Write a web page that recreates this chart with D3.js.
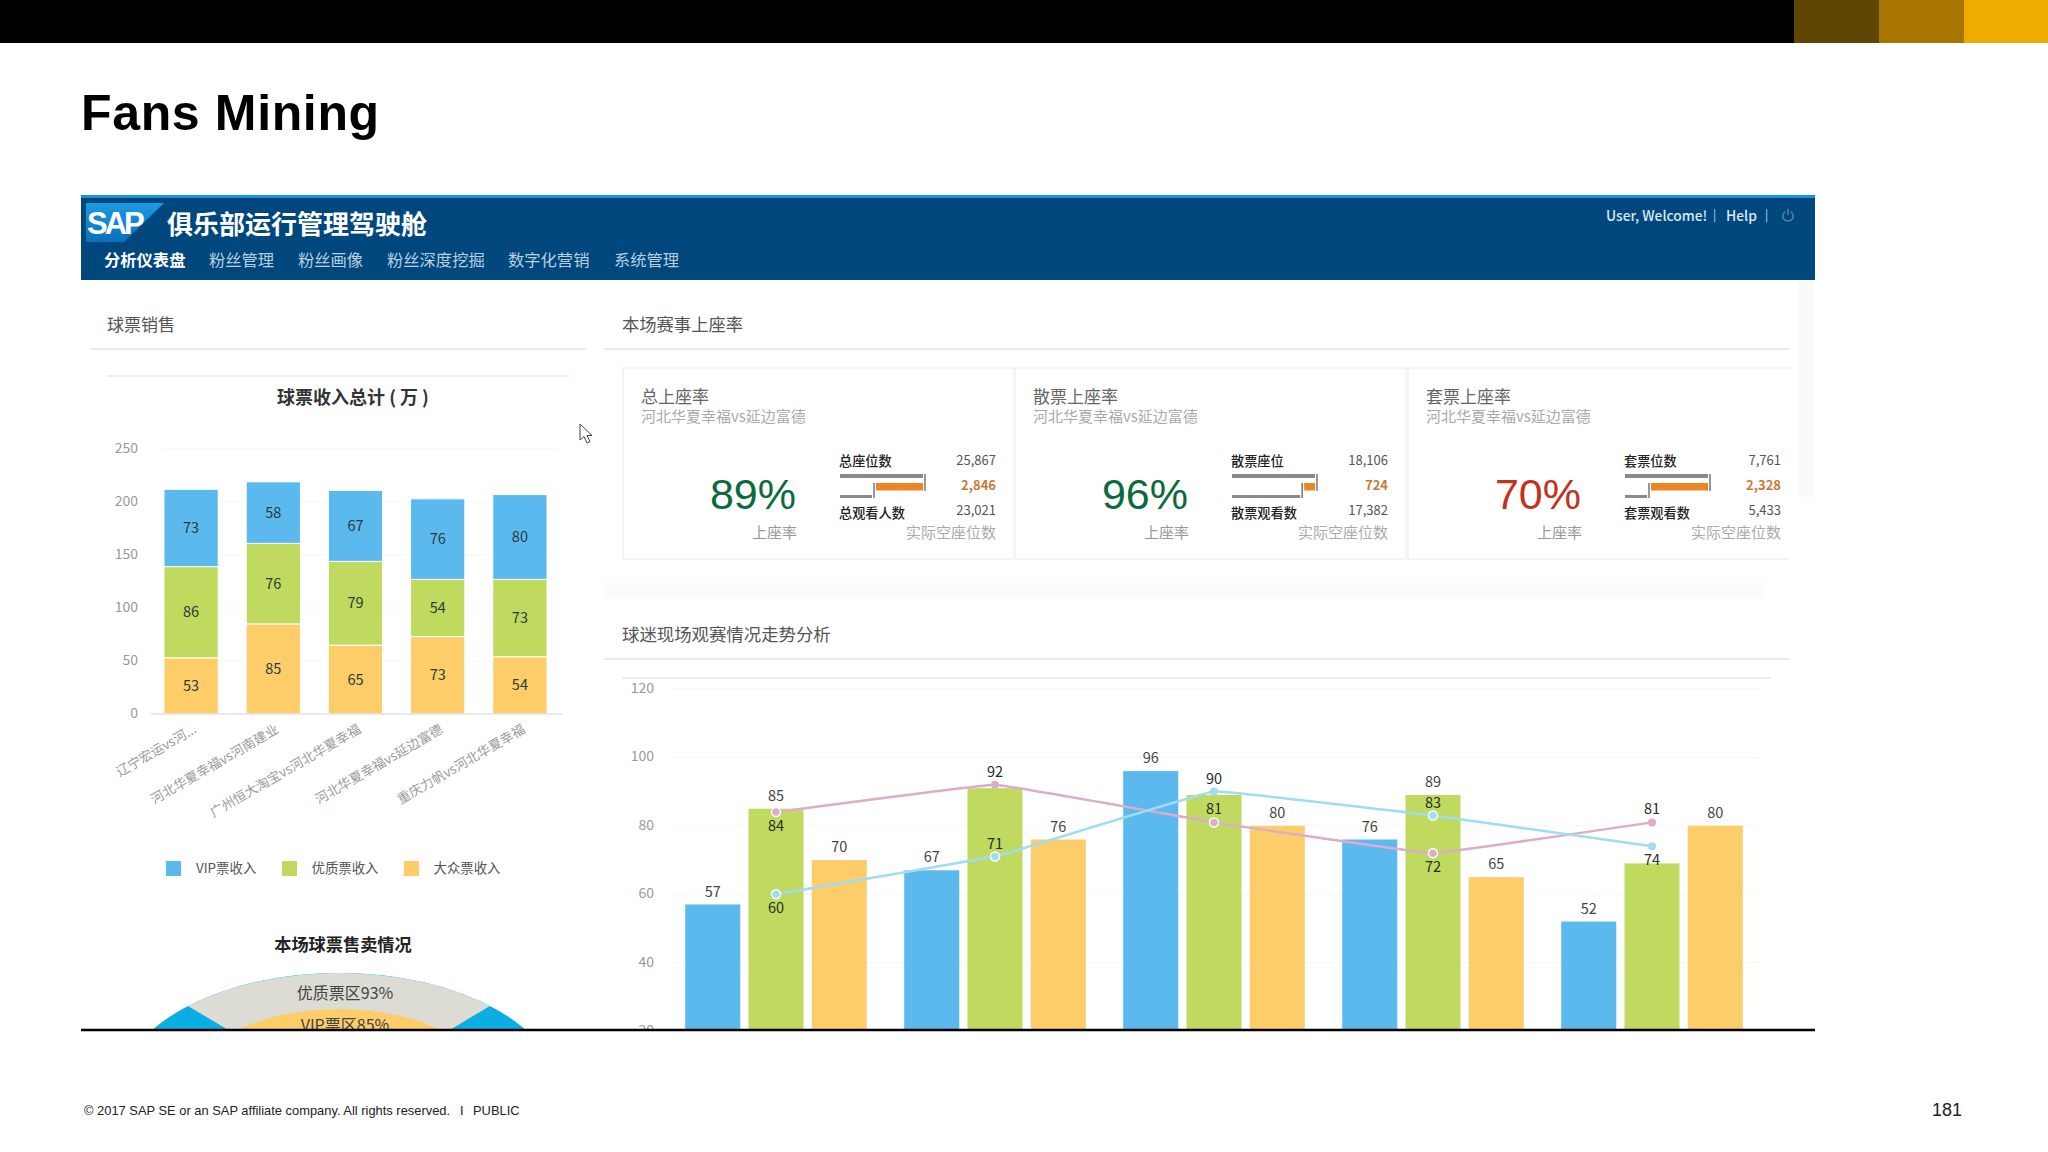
<!DOCTYPE html>
<html>
<head>
<meta charset="utf-8">
<script src="https://cdn.jsdelivr.net/npm/d3@7"></script>
<style>
html, body { margin: 0; padding: 0; background: #fff; }
svg { display: block; }
text { font-family: "Noto Sans CJK SC", sans-serif; }
.arial { font-family: "Liberation Sans", Arial, sans-serif; }
</style>
</head>
<body>
<div id="slide"></div>
<script>
// ticket revenue stacked chart
var matchNames = ["辽宁宏运vs河...", "河北华夏幸福vs河南建业", "广州恒大淘宝vs河北华夏幸福", "河北华夏幸福vs延边富德", "重庆力帆vs河北华夏幸福"];
var publicIncome = [53, 85, 65, 73, 54];
var premiumIncome = [86, 76, 79, 54, 73];
var vipIncome = [73, 58, 67, 76, 80];
var incomeTicks = [0, 50, 100, 150, 200, 250];
var incomeLegend = ["VIP票收入", "优质票收入", "大众票收入"];

// attendance trend chart
var trendGroups = ["g1", "g2", "g3", "g4", "g5"];
var trendVip = [57, 67, 96, 76, 52];
var trendPremium = [85, 91, 89, 89, 69];
var trendPublic = [70, 76, 80, 65, 80];
var trendPink = [84, 92, 81, 72, 81];
var trendBlue = [60, 71, 90, 83, 74];
var trendTicks = [20, 40, 60, 80, 100, 120];

// occupancy cards
var cardTitles = ["总上座率", "散票上座率", "套票上座率"];
var cardRates = ["89%", "96%", "70%"];
var seatLabels = ["总座位数", "散票座位", "套票位数"];
var watchLabels = ["总观看人数", "散票观看数", "套票观看数"];
var seatTotals = [25867, 18106, 7761];
var seatEmpty = [2846, 724, 2328];
var seatWatched = [23021, 17382, 5433];
var bulletMin = [21235, 14049, 4593];

// half hidden gauge under the revenue chart
var gaugeLabels = ["优质票区93%", "VIP票区85%"];

var navItems = ["分析仪表盘", "粉丝管理", "粉丝画像", "粉丝深度挖掘", "数字化营销", "系统管理"];

var blue = "#5bb9ee", green = "#bfda5e", yellow = "#fdcd69";

var svg = d3.select("#slide")
    .append("svg")
    .attr("width", 2048)
    .attr("height", 1152);

var defs = svg.append("defs");

var clip = defs.append("clipPath").attr("id", "pageClip");
clip.append("rect").attr("x", 0).attr("y", 0).attr("width", 2048).attr("height", 1030);

var logoGrad = defs.append("linearGradient")
    .attr("id", "logoGrad")
    .attr("x1", 0).attr("y1", 0).attr("x2", 0).attr("y2", 1);
logoGrad.append("stop").attr("offset", "0%").attr("stop-color", "#1c9be4");
logoGrad.append("stop").attr("offset", "100%").attr("stop-color", "#0b6fb8");

function label(parent, x, y, str, size, color, anchor, weight) {
    return parent.append("text")
        .attr("x", x)
        .attr("y", y)
        .attr("dy", "0.35em")
        .attr("text-anchor", anchor || "start")
        .attr("font-size", size)
        .attr("font-weight", weight || 400)
        .attr("fill", color)
        .text(str);
}

function hRule(parent, x1, x2, y, color, w) {
    parent.append("line")
        .attr("x1", x1).attr("x2", x2)
        .attr("y1", y).attr("y2", y)
        .attr("stroke", color)
        .attr("stroke-width", w || 1.5);
}

// slide frame
svg.append("rect").attr("width", 2048).attr("height", 43).attr("fill", "#000");
svg.append("rect").attr("x", 1794).attr("width", 85).attr("height", 43).attr("fill", "#5e4500");
svg.append("rect").attr("x", 1879).attr("width", 85).attr("height", 43).attr("fill", "#a87600");
svg.append("rect").attr("x", 1964).attr("width", 84).attr("height", 43).attr("fill", "#f0ab00");

svg.append("text")
    .attr("class", "arial")
    .attr("x", 81)
    .attr("y", 130)
    .attr("font-size", 50)
    .attr("font-weight", 700)
    .attr("letter-spacing", 0.65)
    .attr("fill", "#000")
    .text("Fans Mining");

label(svg, 84, 1110, "© 2017 SAP SE or an SAP affiliate company. All rights reserved.", 12.9, "#222").attr("class", "arial");
label(svg, 460, 1110, "I", 12.9, "#222").attr("class", "arial");
label(svg, 473, 1110, "PUBLIC", 12.9, "#222").attr("class", "arial");
label(svg, 1932, 1110, "181", 18, "#222").attr("class", "arial");

// app header
svg.append("rect").attr("x", 81).attr("y", 195).attr("width", 1734).attr("height", 85).attr("fill", "#00477e");
svg.append("rect").attr("x", 81).attr("y", 195).attr("width", 1734).attr("height", 3).attr("fill", "#1a92da");
svg.append("path").attr("d", "M86,203H164L124,242H86Z").attr("fill", "url(#logoGrad)");
svg.append("text")
    .attr("class", "arial")
    .attr("x", 87)
    .attr("y", 234)
    .attr("font-size", 31)
    .attr("font-weight", 700)
    .attr("letter-spacing", -3)
    .attr("fill", "#fff")
    .text("SAP");
label(svg, 167, 225, "俱乐部运行管理驾驶舱", 26, "#fff", "start", 700);

var navX = d3.scaleOrdinal().domain(navItems).range([104, 209, 298, 387, 508, 614]);
navItems.forEach(function(d, i) {
    label(svg, navX(d), 260, d, 16.3, i === 0 ? "#fff" : "#b9cfe0", "start", i === 0 ? 700 : 400);
});

label(svg, 1606, 216, "User, Welcome!", 13.8, "#dce8f2", "start", 500);
label(svg, 1713, 215, "|", 12, "#c6d7e6");
label(svg, 1726, 216, "Help", 13.8, "#dce8f2", "start", 500);
label(svg, 1765, 215, "|", 12, "#c6d7e6");
var powerArc = d3.arc().innerRadius(4.5).outerRadius(5.8).startAngle(0.5).endAngle(2 * Math.PI - 0.5);
svg.append("path").attr("d", powerArc()).attr("transform", "translate(1788,216)").attr("fill", "#5f86a8");
svg.append("rect").attr("x", 1787.3).attr("y", 209).attr("width", 1.4).attr("height", 6).attr("fill", "#5f86a8");

// faint divider band
svg.append("rect").attr("x", 604).attr("y", 583).attr("width", 1160).attr("height", 15).attr("fill", "#fbfbfb");

// section headings
label(svg, 107, 325, "球票销售", 17, "#555");
hRule(svg, 90, 586, 349, "#e4e4e4");
hRule(svg, 107, 569, 376, "#e8e8e8");
label(svg, 353, 398, "球票收入总计 ( 万 )", 18, "#333", "middle", 700);

label(svg, 622, 325, "本场赛事上座率", 17.3, "#555");
hRule(svg, 604, 1790, 349, "#e4e4e4");
label(svg, 622, 635, "球迷现场观赛情况走势分析", 17.4, "#555");
hRule(svg, 604, 1790, 659, "#e4e4e4");
hRule(svg, 622, 1771, 678, "#eeeeee", 2);

// --- stacked revenue chart ---
var incomeX = d3.scaleBand()
    .domain(matchNames)
    .range([150, 561])
    .paddingInner(0.34)
    .paddingOuter(0.17);

var incomeY = d3.scaleLinear()
    .domain([0, 250])
    .range([714, 449]);

var incomeAxis = svg.append("g")
    .attr("transform", "translate(151,0)")
    .call(d3.axisLeft(incomeY).tickValues(incomeTicks).tickSize(0).tickPadding(13));
incomeAxis.select(".domain").remove();
incomeAxis.selectAll("text")
    .attr("font-size", 14)
    .attr("fill", "#999")
    .attr("dy", "0.25em")
    .style("font-family", "'Noto Sans CJK SC'");

svg.append("g").selectAll("line")
    .data(incomeTicks.slice(1))
    .enter()
    .append("line")
    .attr("x1", 162).attr("x2", 558)
    .attr("y1", d => incomeY(d)).attr("y2", d => incomeY(d))
    .attr("stroke", "#f5f5f5");

var incomeRows = matchNames.map(function(d, i) {
    return { name: d, publicIncome: publicIncome[i], premiumIncome: premiumIncome[i], vipIncome: vipIncome[i] };
});
var incomeColor = { publicIncome: yellow, premiumIncome: green, vipIncome: blue };
var incomeStack = d3.stack().keys(["publicIncome", "premiumIncome", "vipIncome"])(incomeRows);

var incomeLayers = svg.append("g").selectAll("g")
    .data(incomeStack)
    .enter()
    .append("g")
    .attr("fill", d => incomeColor[d.key]);

incomeLayers.selectAll("rect")
    .data(d => d)
    .enter()
    .append("rect")
    .attr("x", d => incomeX(d.data.name))
    .attr("y", d => incomeY(d[1]))
    .attr("width", incomeX.bandwidth())
    .attr("height", d => incomeY(d[0]) - incomeY(d[1]))
    .attr("stroke", "#fff")
    .attr("stroke-width", 1);

incomeLayers.selectAll("text")
    .data(d => d)
    .enter()
    .append("text")
    .attr("x", d => incomeX(d.data.name) + incomeX.bandwidth() / 2)
    .attr("y", d => incomeY((d[0] + d[1]) / 2))
    .attr("dy", "0.35em")
    .attr("text-anchor", "middle")
    .attr("font-size", 14.5)
    .attr("fill", "#2c3a3c")
    .text(d => d[1] - d[0]);

hRule(svg, 151, 562, 714, "#dfe3e6", 1.5);

svg.append("g").selectAll("text")
    .data(matchNames)
    .enter()
    .append("text")
    .attr("transform", d => `translate(${incomeX(d) + incomeX.bandwidth() / 2 + 4},728) rotate(-30)`)
    .attr("dy", "0.35em")
    .attr("text-anchor", "end")
    .attr("font-size", 13.2)
    .attr("fill", "#9a9a9a")
    .text(d => d);

// legend
var legendSwatch = [166, 282, 404];
var legendColors = [blue, green, yellow];
incomeLegend.forEach(function(d, i) {
    svg.append("rect")
        .attr("x", legendSwatch[i]).attr("y", 861)
        .attr("width", 15).attr("height", 15)
        .attr("fill", legendColors[i]);
    label(svg, legendSwatch[i] + (i === 0 ? 30 : 29.5), 868, d, 13.4, "#555");
});

// --- gauge, cut off by the slide edge ---
label(svg, 343, 945, "本场球票售卖情况", 17.2, "#222", "middle", 700);

var gaugeClip = svg.append("g").attr("clip-path", "url(#pageClip)");
var gauge = gaugeClip.append("g").attr("transform", "translate(339,1096) scale(1.8,1)");
var ringArc = d3.arc().innerRadius(0);
gauge.append("path")
    .attr("d", ringArc({ outerRadius: 123, startAngle: -Math.PI / 2, endAngle: Math.PI / 2 }))
    .attr("fill", "#0aaee4");
gauge.append("path")
    .attr("d", ringArc({ outerRadius: 123, startAngle: -0.75, endAngle: 0.75 }))
    .attr("fill", "#dcdcd4");
gauge.append("path")
    .attr("d", ringArc({ outerRadius: 87, startAngle: -Math.PI / 2, endAngle: Math.PI / 2 }))
    .attr("fill", yellow);
label(gaugeClip, 345, 993, gaugeLabels[0], 16, "#444", "middle");
label(gaugeClip, 345, 1025, gaugeLabels[1], 16, "#444", "middle");

// mouse pointer left in the screenshot
svg.append("path")
    .attr("d", "M580,424V440L584,436.5L587,443L590,441.5L587,435.5H592Z")
    .attr("fill", "#fff")
    .attr("stroke", "#444")
    .attr("stroke-width", 1);

// --- occupancy cards ---
var cardStep = [0, 392, 785];
var rateColors = ["#0b6b3e", "#0b6b3e", "#c3321d"];
var formatSeats = d3.format(",");

cardTitles.forEach(function(title, i) {
    var dx = cardStep[i];
    var card = svg.append("g").attr("transform", `translate(${dx},0)`);

    card.append("rect")
        .attr("x", 623).attr("y", 368)
        .attr("width", 391).attr("height", 191)
        .attr("fill", "#fff")
        .attr("stroke", "#f2f2f2")
        .attr("stroke-width", 1.5);

    label(card, 641, 397, title, 17, "#666");
    label(card, 641, 417, "河北华夏幸福vs延边富德", 15, "#aaa");

    card.append("text")
        .attr("class", "arial")
        .attr("x", 796)
        .attr("y", 509)
        .attr("text-anchor", "end")
        .attr("font-size", 43)
        .attr("fill", rateColors[i])
        .text(cardRates[i]);
    label(card, 797, 533, "上座率", 15, "#999", "end");

    label(card, 839, 461, seatLabels[i], 13.2, "#222", "start", 500);
    label(card, 839, 513, watchLabels[i], 13.2, "#222", "start", 500);
    label(card, 996, 460, formatSeats(seatTotals[i]), 13, "#555", "end");
    label(card, 996, 485, formatSeats(seatEmpty[i]), 13, "#c77a36", "end", 700);
    label(card, 996, 510, formatSeats(seatWatched[i]), 13, "#555", "end");
    label(card, 996, 533, "实际空座位数", 15, "#aaa", "end");

    // small bullet graph, the axis does not start at zero
    var bulletX = d3.scaleLinear()
        .domain([bulletMin[i], seatTotals[i]])
        .range([840, 923]);

    card.append("rect")
        .attr("x", bulletX(bulletMin[i])).attr("y", 474)
        .attr("width", bulletX(seatTotals[i]) - bulletX(bulletMin[i])).attr("height", 4)
        .attr("fill", "#8a8a8a");
    card.append("rect")
        .attr("x", bulletX(seatWatched[i]) + 4).attr("y", 483)
        .attr("width", bulletX(seatTotals[i]) - bulletX(seatWatched[i]) - 4).attr("height", 7.5)
        .attr("fill", "#ec8524");
    card.append("rect")
        .attr("x", bulletX(bulletMin[i])).attr("y", 495)
        .attr("width", bulletX(seatWatched[i]) - bulletX(bulletMin[i])).attr("height", 3)
        .attr("fill", "#8a8a8a");
    card.append("line")
        .attr("x1", bulletX(seatTotals[i]) + 2).attr("x2", bulletX(seatTotals[i]) + 2)
        .attr("y1", 474).attr("y2", 491)
        .attr("stroke", "#777").attr("stroke-width", 1.5);
    card.append("line")
        .attr("x1", bulletX(seatWatched[i]) + 2).attr("x2", bulletX(seatWatched[i]) + 2)
        .attr("y1", 483).attr("y2", 498)
        .attr("stroke", "#777").attr("stroke-width", 1.5);
});

// third card runs past the section edge, so no right border there
svg.append("rect").attr("x", 1790).attr("y", 360).attr("width", 12).attr("height", 210).attr("fill", "#fff");
svg.append("rect").attr("x", 1799).attr("y", 280).attr("width", 16).attr("height", 217).attr("fill", "#fafafa");

// --- attendance trend chart ---
var trend = svg.append("g").attr("clip-path", "url(#pageClip)");

var trendX = d3.scaleBand()
    .domain(trendGroups)
    .range([666.5, 1761.5])
    .paddingInner(0.171)
    .paddingOuter(0.0855);

var trendSeries = [
    { values: trendVip, color: blue },
    { values: trendPremium, color: green },
    { values: trendPublic, color: yellow }
];

var trendX1 = d3.scaleBand()
    .domain([0, 1, 2])
    .range([0, trendX.bandwidth()])
    .paddingInner(0.13);

var trendY = d3.scaleLinear()
    .domain([0, 120])
    .range([1099.4, 689]);

var trendAxis = trend.append("g")
    .attr("transform", "translate(666,0)")
    .call(d3.axisLeft(trendY).tickValues(trendTicks).tickSize(0).tickPadding(12));
trendAxis.select(".domain").remove();
trendAxis.selectAll("text")
    .attr("font-size", 14)
    .attr("fill", "#999")
    .attr("dy", "0.25em")
    .style("font-family", "'Noto Sans CJK SC'");

trend.append("g").selectAll("line")
    .data(trendTicks.slice(1))
    .enter()
    .append("line")
    .attr("x1", 671).attr("x2", 1759)
    .attr("y1", d => trendY(d)).attr("y2", d => trendY(d))
    .attr("stroke", "#f5f5f5");

trendSeries.forEach(function(s, k) {
    trend.append("g").selectAll("rect")
        .data(s.values)
        .enter()
        .append("rect")
        .attr("x", (d, i) => trendX(trendGroups[i]) + trendX1(k))
        .attr("y", d => trendY(d))
        .attr("width", trendX1.bandwidth())
        .attr("height", d => trendY(0) - trendY(d))
        .attr("fill", s.color);
});

// bar labels, the premium bar only keeps a label where nothing else sits on it
function barLabels(values, k, skip) {
    trend.append("g").selectAll("text")
        .data(values.map((d, i) => ({ v: d, i: i })).filter(d => skip.indexOf(d.i) < 0))
        .enter()
        .append("text")
        .attr("x", d => trendX(trendGroups[d.i]) + trendX1(k) + trendX1.bandwidth() / 2)
        .attr("y", d => trendY(d.v) - 13)
        .attr("dy", "0.35em")
        .attr("text-anchor", "middle")
        .attr("font-size", 14.5)
        .attr("fill", "#444")
        .text(d => d.v);
}
barLabels(trendVip, 0, []);
barLabels(trendPremium, 1, [1, 2, 4]);
barLabels(trendPublic, 2, []);

var trendLine = d3.line()
    .x((d, i) => trendX(trendGroups[i]) + trendX.bandwidth() / 2)
    .y(d => trendY(d))
    .curve(d3.curveCardinal.tension(0.85));

function drawTrend(values, color, sides) {
    trend.append("path")
        .attr("d", trendLine(values))
        .attr("fill", "none")
        .attr("stroke", color)
        .attr("stroke-width", 2.5);

    trend.append("g").selectAll("circle")
        .data(values)
        .enter()
        .append("circle")
        .attr("cx", (d, i) => trendX(trendGroups[i]) + trendX.bandwidth() / 2)
        .attr("cy", d => trendY(d))
        .attr("r", (d, i) => d < trendPremium[i] ? 4.5 : 4)
        .attr("fill", color)
        .attr("stroke", "#fff")
        .attr("stroke-width", (d, i) => d < trendPremium[i] ? 1.5 : 0);

    trend.append("g").selectAll("text")
        .data(values)
        .enter()
        .append("text")
        .attr("x", (d, i) => trendX(trendGroups[i]) + trendX.bandwidth() / 2)
        .attr("y", (d, i) => trendY(d) + (sides[i] ? 14 : -13))
        .attr("dy", "0.35em")
        .attr("text-anchor", "middle")
        .attr("font-size", 14.5)
        .attr("fill", "#2a2a2a")
        .text(d => d);
}
// true puts the value under its marker
drawTrend(trendPink, "#dcaccb", [true, false, false, true, false]);
drawTrend(trendBlue, "#a0dcf4", [true, false, false, false, true]);

// slide edge line over everything
hRule(svg, 81, 1815, 1030, "#000", 2.5);
</script>
</body>
</html>
